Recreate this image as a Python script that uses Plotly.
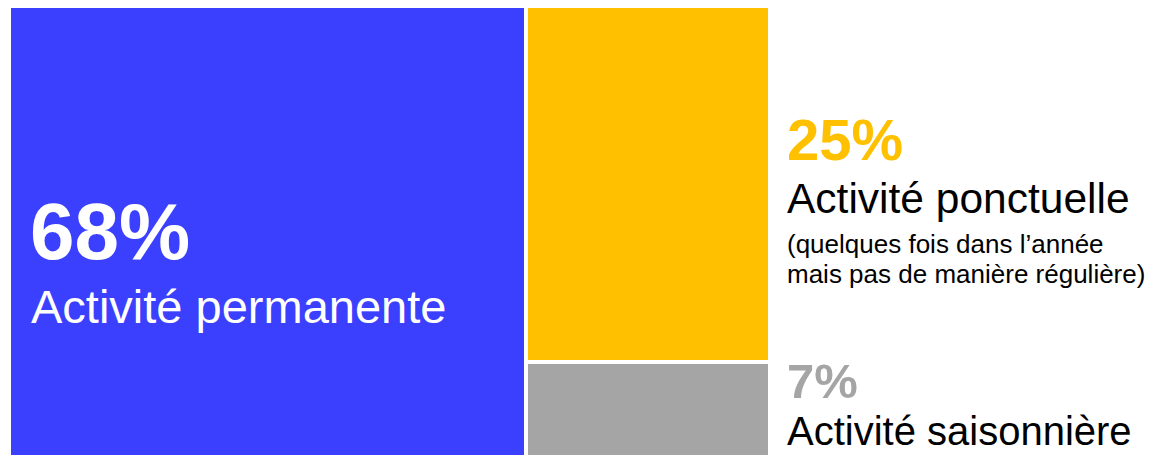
import plotly.graph_objects as go

# Data
categories = ["Activité permanente", "Activité ponctuelle", "Activité saisonnière"]
values = [68, 25, 7]
pct_labels = ["68%", "25%", "7%"]
colors = ["#3B40FF", "#FFC000", "#A5A5A5"]
sub_lines = ["(quelques fois dans l\u2019année", "mais pas de manière régulière)"]

FONT = "Liberation Sans, Arial, sans-serif"

# Treemap-like layout computed from values: first item on the left column,
# remaining items stacked in the right column.
total = sum(values)
left_w = values[0] / total * 100
right_w = 100 - left_w
right_total = sum(values[1:])
h_pon = values[1] / right_total * 100
h_sai = values[2] / right_total * 100

fig = go.Figure()
line = dict(color="white", width=4)
fig.add_trace(go.Bar(x=[left_w / 2], y=[100], base=[0], width=[left_w],
                     marker=dict(color=colors[0], line=line), hoverinfo="skip"))
fig.add_trace(go.Bar(x=[left_w + right_w / 2], y=[h_pon], base=[h_sai], width=[right_w],
                     marker=dict(color=colors[1], line=line), hoverinfo="skip"))
fig.add_trace(go.Bar(x=[left_w + right_w / 2], y=[h_sai], base=[0], width=[right_w],
                     marker=dict(color=colors[2], line=line), hoverinfo="skip"))

W, H = 1146, 447
xr = [-0.12, 150.55]
yr = [1.6, 99.56]

def ypx_to_data(py):
    return yr[1] - py / H * (yr[1] - yr[0])

def ann(text, x, py, size, color, bold=False, xshift=0):
    fig.add_annotation(
        x=x, y=ypx_to_data(py), xref="x", yref="y",
        text=f"<b>{text}</b>" if bold else text,
        showarrow=False, xanchor="left", yanchor="middle", xshift=xshift,
        font=dict(family=FONT, size=size, color=color), align="left")

# Left block labels
ann(pct_labels[0], 0, 223, 80, "white", bold=True, xshift=19)
ann(categories[0], 0, 298, 47, "white", xshift=20)
# Right labels
ann(pct_labels[1], 100, 131, 58, colors[1], bold=True, xshift=15)
ann(categories[1], 100, 190, 42.5, "black", xshift=15)
ann(sub_lines[0], 100, 236, 26, "black", xshift=15)
ann(sub_lines[1], 100, 266, 26, "black", xshift=15)
ann(pct_labels[2], 100, 373, 49, colors[2], bold=True, xshift=15)
ann(categories[2], 100, 423, 40, "black", xshift=15)

fig.update_layout(
    width=W, height=H, margin=dict(l=0, r=0, t=0, b=0),
    paper_bgcolor="white", plot_bgcolor="white",
    showlegend=False, bargap=0, barmode="overlay",
    xaxis=dict(range=xr, visible=False, fixedrange=True),
    yaxis=dict(range=yr, visible=False, fixedrange=True),
)
fig.write_html("out.html", config={"displayModeBar": False})
